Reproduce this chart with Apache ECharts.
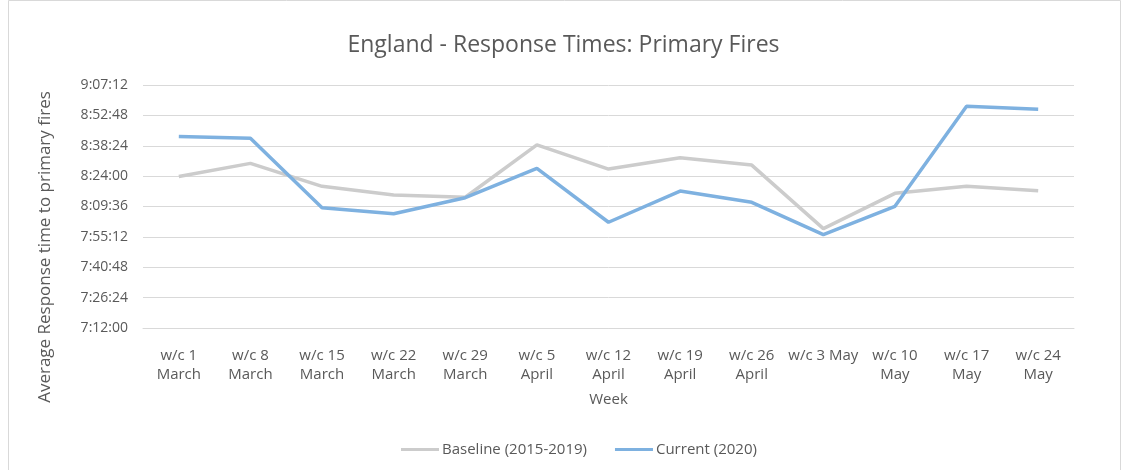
<!DOCTYPE html>
<html>
<head>
<meta charset="utf-8">
<script src="https://cdn.jsdelivr.net/npm/echarts@6/dist/echarts.min.js"></script>
<style>
html,body{margin:0;padding:0;background:#fff;}
#main{width:1127px;height:470px;}
</style>
</head>
<body>
<div id="main"></div>
<script>
// Week categories
const categories = ["w/c 1\nMarch","w/c 8\nMarch","w/c 15\nMarch","w/c 22\nMarch","w/c 29\nMarch","w/c 5\nApril","w/c 12\nApril","w/c 19\nApril","w/c 26\nApril","w/c 3 May","w/c 10\nMay","w/c 17\nMay","w/c 24\nMay"];
// Values in seconds since midnight (average response time, H:MM:SS)
const baseline = [30230, 30602, 29949, 29702, 29640, 31130, 30440, 30761, 30554, 28746, 29750, 29949, 29824];
const current  = [31368, 31320, 29342, 29172, 29626, 30462, 28928, 29816, 29495, 28576, 29382, 32227, 32143];
const seriesNames = ["Baseline (2015-2019)", "Current (2020)"];
// Y axis: 7:12:00 to 9:07:12 step 0:14:24
const yMin = 25920, yMax = 32832, yStep = 864;

function fmt(s){
  const h = Math.floor(s/3600), m = Math.floor((s%3600)/60), sec = Math.round(s%60);
  return h + ":" + String(m).padStart(2,"0") + ":" + String(sec).padStart(2,"0");
}

const font = "Open Sans, Liberation Sans, Arial, sans-serif";
const chart = echarts.init(document.getElementById('main'));
chart.setOption({
  backgroundColor: '#fff',
  animation: false,
  textStyle: {fontFamily: font},
  title: {
    text: 'England - Response Times: Primary Fires',
    left: 'center', top: 29,
    textStyle: {fontFamily: font, fontSize: 23, fontWeight: 'normal', color: '#595959'}
  },
  graphic: [
    {type: 'rect', shape: {x: 8.5, y: 0.5, width: 1112, height: 490, r: 0}, style: {fill: 'none', stroke: '#d9d9d9', lineWidth: 1}, silent: true},
    {type: 'text', x: 45, y: 247, rotation: Math.PI/2, style: {text: 'Average Response time to primary fires', fontFamily: font, fontSize: 17, fill: '#595959', align: 'center', verticalAlign: 'middle'}}
  ],
  grid: {left: 143, right: 53, top: 85, bottom: 142, containLabel: false},
  legend: {
    bottom: 8, left: 396,
    itemWidth: 38, itemHeight: 3, itemGap: 28,
    icon: 'rect',
    textStyle: {fontFamily: font, fontSize: 15, color: '#595959', padding: [0, 0, 0, -2]},
    data: seriesNames
  },
  xAxis: {
    type: 'category', data: categories, boundaryGap: true,
    name: 'Week', nameLocation: 'middle', nameGap: 64,
    nameTextStyle: {fontFamily: font, fontSize: 15, color: '#595959'},
    axisLine: {show: true, lineStyle: {color: '#d9d9d9'}},
    axisTick: {show: false},
    axisLabel: {interval: 0, color: '#595959', fontSize: 15, fontFamily: font, margin: 18, lineHeight: 19}
  },
  yAxis: {
    type: 'value', min: yMin, max: yMax, interval: yStep,
    axisLine: {show: false}, axisTick: {show: false},
    splitLine: {lineStyle: {color: '#d9d9d9', width: 1}},
    axisLabel: {formatter: fmt, color: '#595959', fontSize: 14, fontFamily: font, margin: 15}
  },
  series: [
    {name: seriesNames[0], type: 'line', data: baseline, symbol: 'none', lineStyle: {color: '#cccccc', width: 3.5}, itemStyle: {color: '#cccccc'}},
    {name: seriesNames[1], type: 'line', data: current, symbol: 'none', lineStyle: {color: '#7eb1e0', width: 3.5}, itemStyle: {color: '#7eb1e0'}}
  ]
});
</script>
</body>
</html>
